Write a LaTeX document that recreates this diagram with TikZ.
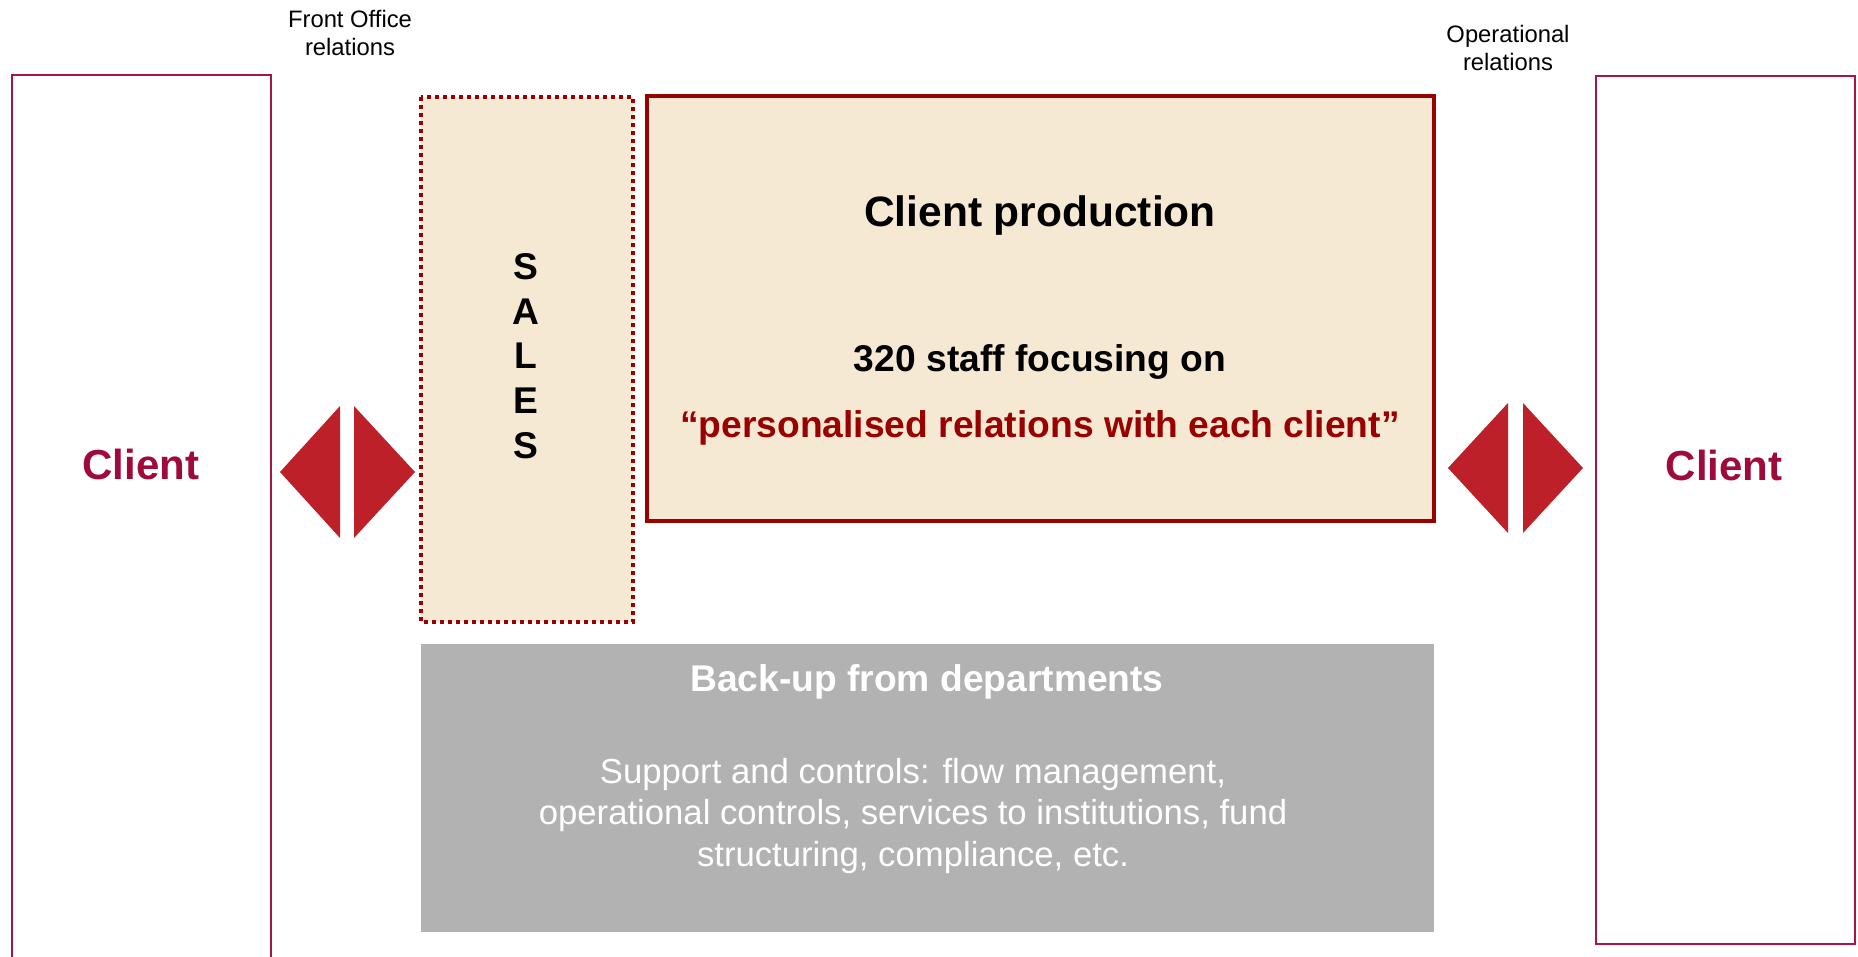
\documentclass[tikz,border=0pt]{standalone}
\usepackage{fontspec}
\setmainfont{Liberation Sans}
\definecolor{clientred}{RGB}{172,20,72}
\definecolor{clienttext}{RGB}{160,10,58}
\definecolor{arrowred}{RGB}{190,32,42}
\definecolor{darkred}{RGB}{153,0,0}
\definecolor{beige}{RGB}{245,233,212}
\definecolor{backgrey}{RGB}{178,178,178}
\tikzset{
  clientbox/.style={draw=clientred, line width=1.2pt, fill=white},
  salesbox/.style={draw=darkred, fill=beige, line width=2pt, dash pattern=on 2pt off 2pt},
  prodbox/.style={draw=darkred, fill=beige, line width=1.8pt},
  backbox/.style={fill=backgrey},
  arrowpart/.style={fill=arrowred},
  lbl/.style={font=\fontsize{11.9}{14.2}\selectfont, align=center, inner sep=0pt},
  clienttxt/.style={font=\fontsize{21}{25}\selectfont\bfseries, text=clienttext, inner sep=0pt},
}
\begin{document}
\begin{tikzpicture}[x=0.5pt, y=-0.5pt]
\useasboundingbox (0,0) rectangle (1858,957);
\clip (0,0) rectangle (1858,957);
% client boxes
\path[clientbox] (12,75) rectangle (271,975);
\path[clientbox] (1596,76) rectangle (1855,944);
\node[clienttxt] (clientL) at (141,464) {Client};
\node[clienttxt] (clientR) at (1724,465) {Client};
% labels
\node[lbl] (front) at (350,33) {Front Office\\relations};
\node[lbl] (oper) at (1508,48) {Operational\\relations};
% sales box
\path[salesbox] (421,97) rectangle (633,622);
\node[font=\fontsize{18.6}{22.35}\selectfont\bfseries, align=center, inner sep=0pt] (sales) at (526,356) {S\\A\\L\\E\\S};
% production box
\path[prodbox] (647,96) rectangle (1434,521);
\node[font=\fontsize{21.25}{25}\selectfont\bfseries, inner sep=0pt] (prodtitle) at (1040,216) {Client production};
\node[font=\fontsize{18.6}{22}\selectfont\bfseries, inner sep=0pt] (staff) at (1040,362) {320 staff focusing on};
\node[font=\fontsize{18.6}{22}\selectfont\bfseries, text=darkred, inner sep=0pt] (pers) at (1040,428) {“personalised relations with each client”};
% back-up box
\path[backbox] (421,644) rectangle (1434,932);
\node[font=\fontsize{18.6}{22}\selectfont\bfseries, text=white, inner sep=0pt] (backtitle) at (927,682) {Back-up from departments};
\node[font=\fontsize{17.35}{20.75}\selectfont, text=white, align=center, inner sep=0pt] (backbody) at (913,816) {Support and controls: flow management,\\operational controls, services to institutions, fund\\structuring, compliance, etc.};
% arrows
\path[arrowpart] (280,472) -- (340,406) -- (340,538) -- cycle;
\path[arrowpart] (354,406) -- (415,472) -- (354,538) -- cycle;
\path[arrowpart] (1448,468) -- (1508,403) -- (1508,533) -- cycle;
\path[arrowpart] (1523,403) -- (1583,468) -- (1523,533) -- cycle;
\end{tikzpicture}
\end{document}
